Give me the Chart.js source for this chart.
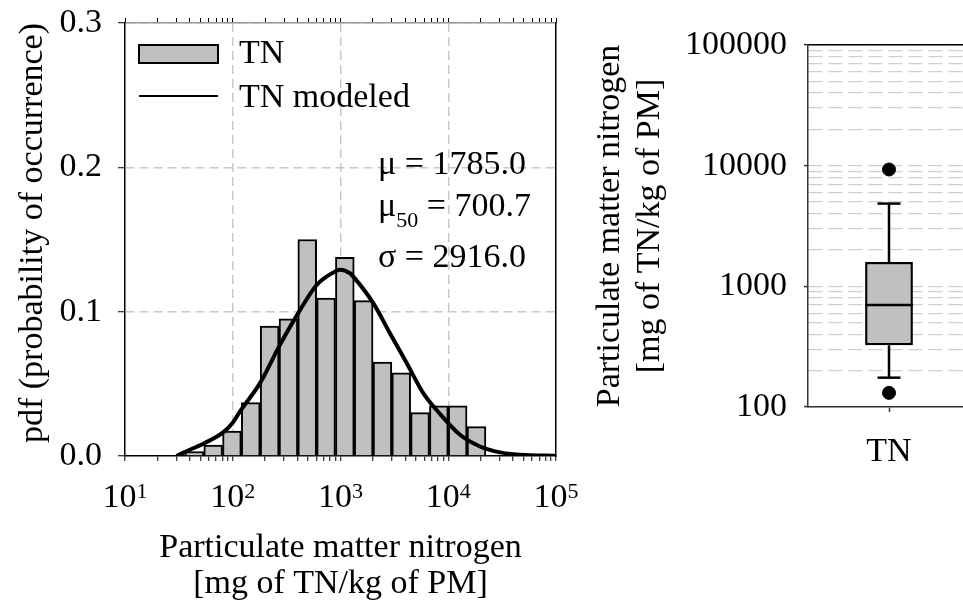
<!DOCTYPE html>
<html>
<head>
<meta charset="utf-8">
<script src="https://cdn.jsdelivr.net/npm/chart.js@4.4.1/dist/chart.umd.min.js"></script>
<style>
  html, body { margin: 0; padding: 0; background: #fff; overflow: hidden; width: 963px; height: 609px; }
  #histChart { position: absolute; left: 0; top: 0; }
  #boxChart { position: absolute; left: 563px; top: 0; }
</style>
</head>
<body>
<canvas id="histChart" width="590" height="609"></canvas>
<canvas id="boxChart" width="407" height="609"></canvas>
<script>
// histogram: bin centres [mg TN / kg PM] and pdf of each bin
const binCentres = [44, 66, 98, 147, 220, 329, 491, 735, 1096, 1641, 2449, 3664, 5470, 8185, 12218, 18281];
const binPdf = [0.003, 0.0075, 0.0173, 0.037, 0.090, 0.095, 0.150, 0.1095, 0.1377, 0.1077, 0.065, 0.0577, 0.030, 0.0348, 0.0348, 0.0203];

// modeled curve
const modelX = [30, 40, 55, 82, 100, 117, 179, 274, 405, 601, 922, 989, 1225, 1315, 2014, 2877, 4111, 5861, 8375, 12853, 19724, 30200, 46345, 100000];
const modelPdf = [0, 0.0043, 0.009, 0.0165, 0.023, 0.031, 0.0505, 0.077, 0.099, 0.1185, 0.1284, 0.129, 0.1266, 0.1243, 0.1059, 0.085, 0.0644, 0.0436, 0.0292, 0.0147, 0.0066, 0.0025, 0.0009, 0.0002];

const histXTicks = [10, 100, 1000, 10000, 100000];
const statLines = [['μ', '', ' = 1785.0'], ['μ', '50', ' = 700.7'], ['σ', '', ' = 2916.0']];

// box plot
const boxLabels = ['TN'];
const boxQ1 = 325;
const boxMedian = 701;
const boxQ3 = 1590;
const whiskerLow = 175;
const whiskerHigh = 4850;
const outliers = [9300, 131];

const serif = "'Liberation Serif', 'Times New Roman', serif";
Chart.defaults.font.family = serif;
Chart.defaults.font.size = 34;
Chart.defaults.color = '#000';

function logTicks(min, max) {
  const t = [];
  for (let d = min; d < max; d *= 10) {
    for (let k = 1; k < 10; k++) t.push({ value: d * k, major: k === 1 });
  }
  t.push({ value: max, major: true });
  return t;
}

// fixed axis box sizes, no extra label padding
function fixBox(w, h) {
  return s => {
    if (w !== null) s.width = w;
    if (h !== null) s.height = h;
    s.paddingTop = 0; s.paddingBottom = 0; s.paddingLeft = 0; s.paddingRight = 0;
  };
}

const histDecor = {
  id: 'histDecor',
  afterDraw(chart) {
    const { ctx, chartArea: ca, scales: { x } } = chart;
    ctx.save();
    ctx.fillStyle = '#000';
    ctx.textBaseline = 'alphabetic';
    ctx.textAlign = 'left';

    // x tick labels as powers of ten
    histXTicks.forEach(v => {
      const px = x.getPixelForValue(v);
      const exp = String(Math.round(Math.log10(v)));
      ctx.font = '34px ' + serif;
      const w1 = ctx.measureText('10').width;
      ctx.font = '22px ' + serif;
      const w2 = ctx.measureText(exp).width;
      const left = px - (w1 + w2) / 2;
      ctx.font = '34px ' + serif;
      ctx.fillText('10', left, ca.bottom + 51);
      ctx.font = '22px ' + serif;
      ctx.fillText(exp, left + w1, ca.bottom + 42);
    });

    // legend
    const bars = chart.data.datasets[1];
    const line = chart.data.datasets[0];
    ctx.fillStyle = bars.backgroundColor;
    ctx.fillRect(ca.left + 14, ca.top + 22, 79, 18);
    ctx.strokeStyle = bars.borderColor;
    ctx.lineWidth = 2;
    ctx.strokeRect(ca.left + 14, ca.top + 22, 79, 18);
    ctx.beginPath();
    ctx.moveTo(ca.left + 14, ca.top + 73);
    ctx.lineTo(ca.left + 93, ca.top + 73);
    ctx.strokeStyle = line.borderColor;
    ctx.stroke();
    ctx.fillStyle = '#000';
    ctx.font = '34px ' + serif;
    ctx.fillText(bars.label, ca.left + 114, ca.top + 40);
    ctx.fillText(line.label, ca.left + 114, ca.top + 84);

    // statistics
    const baselines = [151, 193, 244];
    statLines.forEach((s, i) => {
      let cx = ca.left + 253;
      const by = ca.top + baselines[i];
      ctx.font = '34px ' + serif;
      ctx.fillText(s[0], cx, by);
      cx += ctx.measureText(s[0]).width;
      if (s[1]) {
        ctx.font = '22px ' + serif;
        ctx.fillText(s[1], cx, by + 11);
        cx += ctx.measureText(s[1]).width;
        ctx.font = '34px ' + serif;
      }
      ctx.fillText(s[2], cx, by);
    });
    ctx.restore();
  }
};

new Chart(document.getElementById('histChart'), {
  type: 'bar',
  data: {
    datasets: [
      {
        type: 'line',
        label: 'TN modeled',
        data: modelX.map((v, i) => ({ x: v, y: modelPdf[i] })),
        borderColor: '#000',
        borderWidth: 4,
        pointRadius: 0,
        cubicInterpolationMode: 'monotone',
        order: 0
      },
      {
        type: 'bar',
        label: 'TN',
        data: binCentres.map((v, i) => ({ x: v, y: binPdf[i] })),
        backgroundColor: '#c0c0c0',
        borderColor: '#000',
        borderWidth: 2,
        barThickness: 'flex',
        categoryPercentage: 1,
        barPercentage: 1,
        order: 1
      }
    ]
  },
  options: {
    responsive: false,
    animation: false,
    layout: { padding: 0, autoPadding: false },
    plugins: { legend: { display: false }, tooltip: { enabled: false } },
    scales: {
      x: {
        type: 'logarithmic',
        position: 'bottom',
        min: 10,
        max: 100000,
        offset: false,
        afterBuildTicks: s => { s.ticks = logTicks(10, 100000); },
        afterFit: fixBox(null, 153),
        ticks: { display: false },
        grid: {
          offset: false,
          color: c => (c.tick && c.tick.major && c.tick.value > 10 && c.tick.value < 100000) ? '#c8c8c8' : 'rgba(0,0,0,0)',
          lineWidth: 1.5,
          tickColor: '#000',
          tickLength: 5,
          tickWidth: 1,
          tickBorderDash: []
        },
        border: { color: '#000', width: 1.5, dash: [9, 5] },
        title: {
          display: true,
          text: ['Particulate matter nitrogen', '[mg of TN/kg of PM]'],
          font: { size: 34, lineHeight: 1.06 },
          padding: { top: 0, bottom: 6.5 }
        }
      },
      xt: {
        type: 'logarithmic',
        position: 'top',
        min: 10,
        max: 100000,
        offset: false,
        afterBuildTicks: s => { s.ticks = logTicks(10, 100000); },
        afterFit: fixBox(null, 23),
        ticks: { display: false },
        grid: { offset: false, drawOnChartArea: false, tickColor: '#000', tickLength: 5, tickWidth: 1 },
        border: { color: '#999', width: 1.5 }
      },
      y: {
        type: 'linear',
        position: 'left',
        min: 0,
        max: 0.3,
        afterFit: fixBox(125, null),
        ticks: { stepSize: 0.1, padding: 16, callback: v => v.toFixed(1) },
        grid: {
          color: c => (c.tick && c.tick.value > 0) ? '#c8c8c8' : 'rgba(0,0,0,0)',
          lineWidth: 1.5,
          tickColor: '#000',
          tickLength: 7,
          tickWidth: 1,
          tickBorderDash: []
        },
        border: { color: '#000', width: 1.5, dash: [9, 5] },
        title: {
          display: true,
          align: 'end',
          text: 'pdf (probability of occurrence)',
          font: { size: 34, lineHeight: 1.2 },
          padding: { top: 13, bottom: 0 }
        }
      },
      yr: {
        type: 'linear',
        position: 'right',
        min: 0,
        max: 0.3,
        afterFit: fixBox(34, null),
        ticks: { display: false },
        grid: { drawOnChartArea: false, drawTicks: false },
        border: { color: '#000', width: 1.5 }
      }
    }
  },
  plugins: [histDecor]
});

new Chart(document.getElementById('boxChart'), {
  type: 'bar',
  data: {
    labels: boxLabels,
    datasets: [
      {
        type: 'line',
        label: 'median',
        data: [{ x: boxLabels[0], y: boxMedian }],
        showLine: false,
        pointStyle: 'line',
        pointRadius: 24,
        pointBorderWidth: 2.5,
        pointBorderColor: '#000',
        order: 0
      },
      {
        type: 'line',
        label: 'outliers',
        data: outliers.map(v => ({ x: boxLabels[0], y: v })),
        showLine: false,
        pointRadius: 6.5,
        pointBackgroundColor: '#000',
        pointBorderColor: '#000',
        order: 0
      },
      {
        type: 'bar',
        label: 'TN',
        data: [[boxQ1, boxQ3]],
        backgroundColor: '#c0c0c0',
        borderColor: '#000',
        borderWidth: 2.5,
        borderSkipped: false,
        categoryPercentage: 1,
        barPercentage: 0.295,
        order: 1
      },
      {
        type: 'line',
        label: 'upper whisker',
        data: [{ x: boxLabels[0], y: boxQ3 }, { x: boxLabels[0], y: whiskerHigh }],
        borderColor: '#000',
        borderWidth: 2.5,
        pointStyle: 'line',
        pointRadius: [0, 11.5],
        pointBorderWidth: 2.5,
        pointBorderColor: '#000',
        order: 2
      },
      {
        type: 'line',
        label: 'lower whisker',
        data: [{ x: boxLabels[0], y: boxQ1 }, { x: boxLabels[0], y: whiskerLow }],
        borderColor: '#000',
        borderWidth: 2.5,
        pointStyle: 'line',
        pointRadius: [0, 11.5],
        pointBorderWidth: 2.5,
        pointBorderColor: '#000',
        order: 2
      }
    ]
  },
  options: {
    responsive: false,
    animation: false,
    layout: { padding: 0, autoPadding: false },
    plugins: { legend: { display: false }, tooltip: { enabled: false } },
    scales: {
      x: {
        type: 'category',
        position: 'bottom',
        afterFit: fixBox(null, 202),
        ticks: { padding: 20 },
        grid: { offset: false, drawOnChartArea: false, tickColor: '#333', tickLength: 5, tickWidth: 1.5 },
        border: { color: '#333', width: 1.5 }
      },
      xt: {
        type: 'category',
        position: 'top',
        afterFit: fixBox(null, 45),
        ticks: { display: false },
        grid: { drawOnChartArea: false, drawTicks: false },
        border: { color: '#000', width: 1.5 }
      },
      y: {
        type: 'logarithmic',
        position: 'left',
        min: 100,
        max: 100000,
        afterBuildTicks: s => { s.ticks = logTicks(100, 100000); },
        afterFit: fixBox(245, null),
        ticks: {
          autoSkip: false,
          padding: 17,
          callback: (v, i, t) => (t[i].major ? String(v) : '')
        },
        grid: {
          color: '#cfcfcf',
          lineWidth: 1.2,
          tickColor: c => (c.tick && c.tick.major) ? '#333' : 'rgba(0,0,0,0)',
          tickLength: 4,
          tickWidth: 1.5,
          tickBorderDash: []
        },
        border: { color: '#333', width: 1.5, dash: [14, 6] },
        title: {
          display: true,
          text: ['Particulate matter nitrogen', '[mg of TN/kg of PM]'],
          font: { size: 34, lineHeight: 1.18 },
          padding: { top: 27, bottom: 0 }
        }
      }
    }
  }
});
</script>
</body>
</html>
